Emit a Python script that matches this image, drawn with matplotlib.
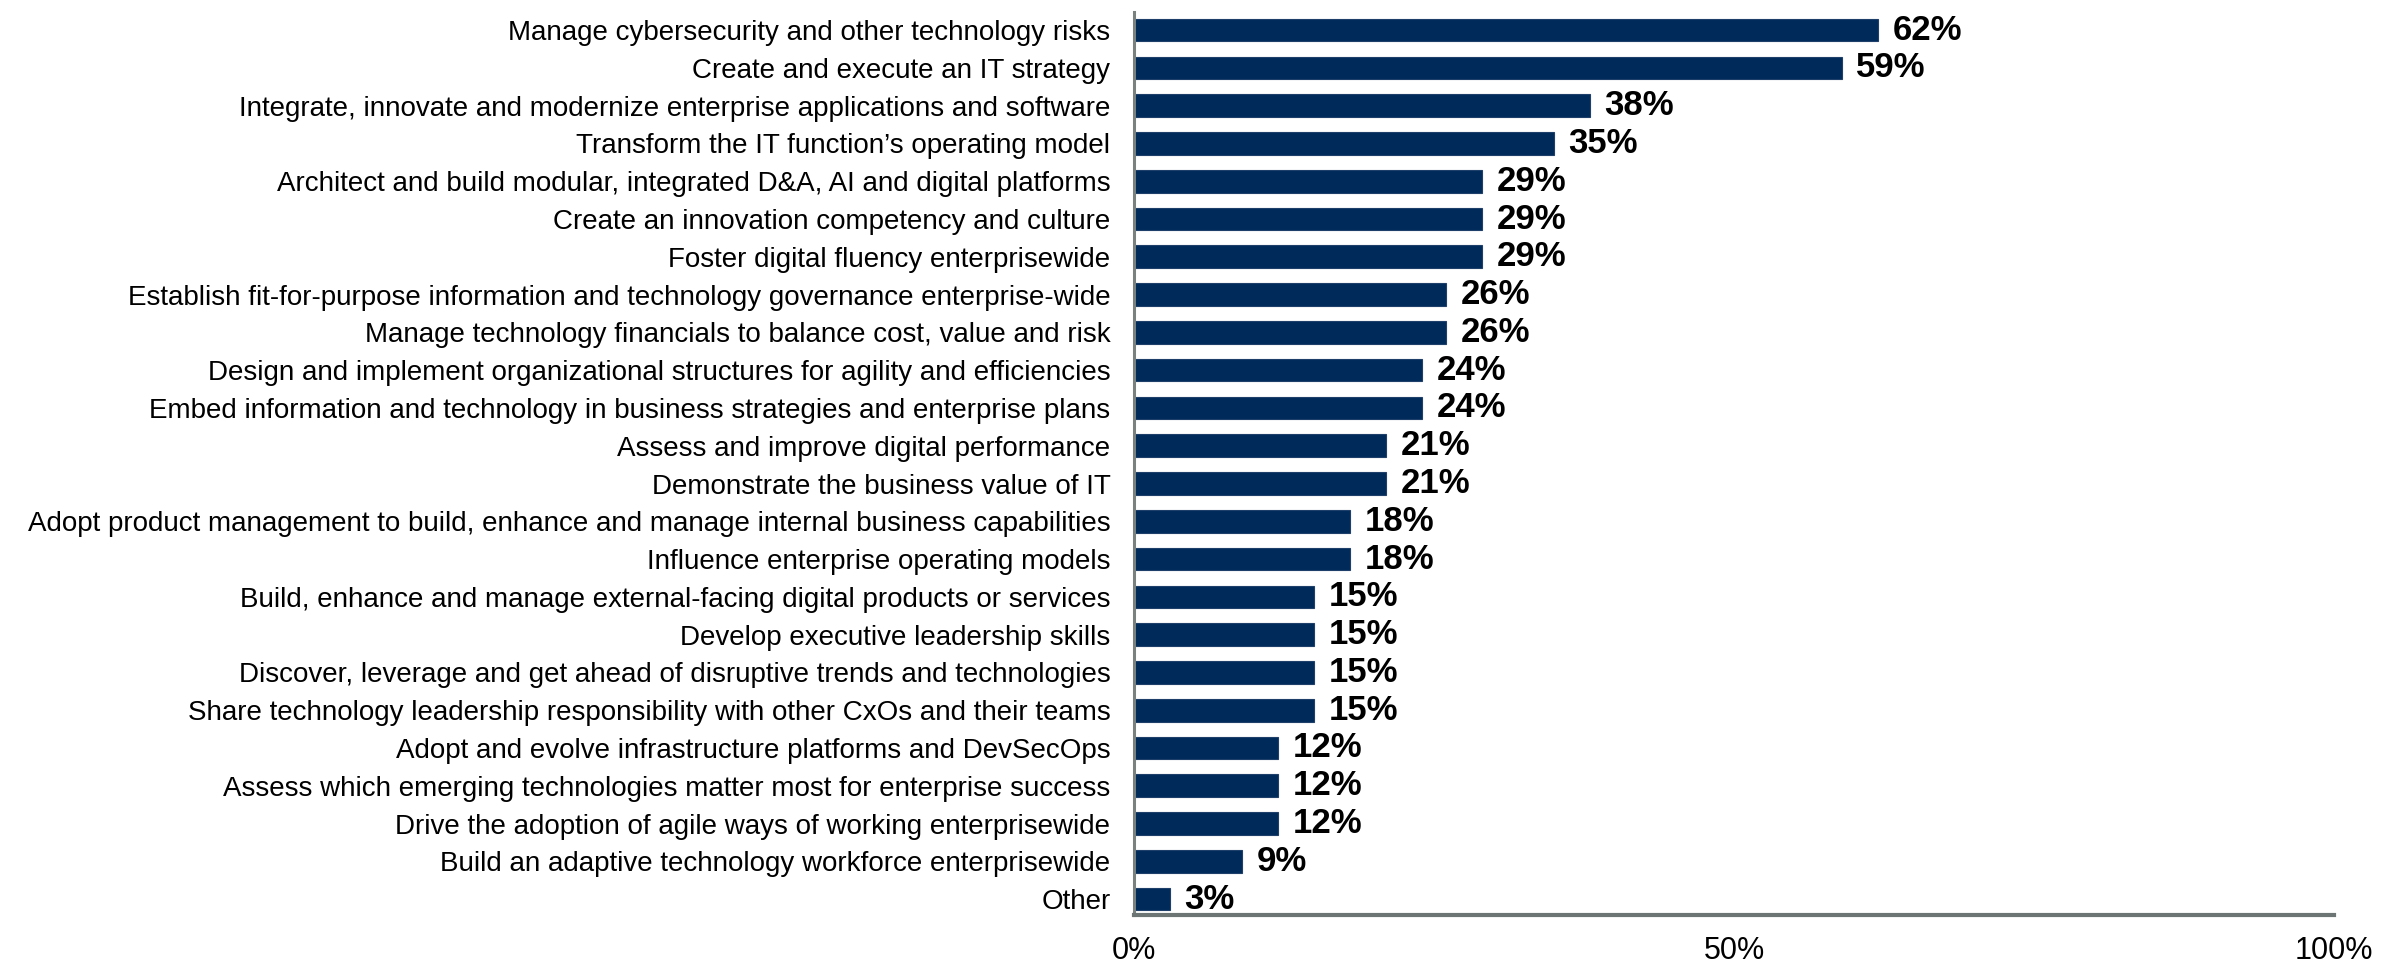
import matplotlib.pyplot as plt
import numpy as np

# Priorities and share of respondents (%)
priorities = [
    'Manage cybersecurity and other technology risks',
    'Create and execute an IT strategy',
    'Integrate, innovate and modernize enterprise applications and software',
    'Transform the IT function\u2019s operating model',
    'Architect and build modular, integrated D&A, AI and digital platforms',
    'Create an innovation competency and culture',
    'Foster digital fluency enterprisewide',
    'Establish fit-for-purpose information and technology governance enterprise-wide',
    'Manage technology financials to balance cost, value and risk',
    'Design and implement organizational structures for agility and efficiencies',
    'Embed information and technology in business strategies and enterprise plans',
    'Assess and improve digital performance',
    'Demonstrate the business value of IT',
    'Adopt product management to build, enhance and manage internal business capabilities',
    'Influence enterprise operating models',
    'Build, enhance and manage external-facing digital products or services',
    'Develop executive leadership skills',
    'Discover, leverage and get ahead of disruptive trends and technologies',
    'Share technology leadership responsibility with other CxOs and their teams',
    'Adopt and evolve infrastructure platforms and DevSecOps',
    'Assess which emerging technologies matter most for enterprise success',
    'Drive the adoption of agile ways of working enterprisewide',
    'Build an adaptive technology workforce enterprisewide',
    'Other',
]
shares = [62, 59, 38, 35, 29, 29, 29, 26, 26, 24, 24, 21, 21, 18, 18,
          15, 15, 15, 15, 12, 12, 12, 9, 3]
x_ticks = [0, 50, 100]
x_tick_labels = ['0%', '50%', '100%']

plt.rcParams['font.family'] = ['Liberation Sans', 'DejaVu Sans']

fig = plt.figure(figsize=(23.84, 9.68), dpi=100)
ax = fig.add_axes([0.4757, 0.0548, 0.5033, 0.9328])

y = np.arange(len(priorities))
ax.barh(y, shares, height=0.6, color='#002a5a', edgecolor='#1f3f6b', linewidth=0.8)

for yi, v in zip(y, shares):
    ax.text(v + 1.2, yi, f'{v}%', va='center', ha='left',
            fontsize=25, fontweight='bold', color='black')

ax.set_yticks(y)
ax.set_yticklabels(priorities, fontsize=20)
ax.set_ylim(len(priorities) - 1 + 0.42, -0.48)
ax.set_xlim(0, 100)
ax.set_xticks(x_ticks)
ax.set_xticklabels(x_tick_labels, fontsize=22)
ax.tick_params(axis='both', length=0)
ax.tick_params(axis='y', pad=17)
ax.tick_params(axis='x', pad=15)

for side in ['top', 'right']:
    ax.spines[side].set_visible(False)
ax.spines['left'].set_color('#7a8280')
ax.spines['left'].set_linewidth(2.2)
ax.spines['bottom'].set_color('#6d7574')
ax.spines['bottom'].set_linewidth(3)

fig.savefig('out.png', dpi=100)
